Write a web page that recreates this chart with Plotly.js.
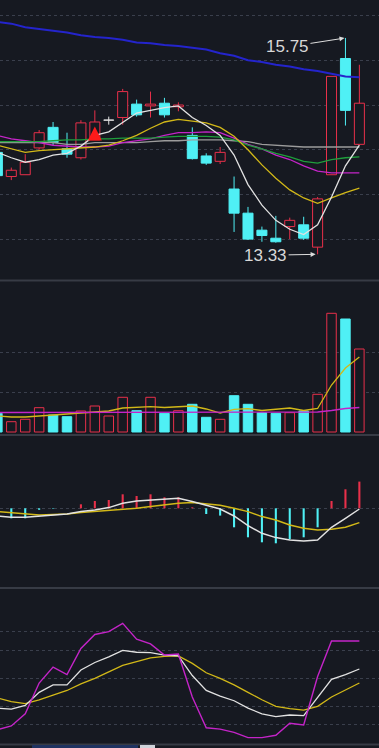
<!DOCTYPE html>
<html><head><meta charset="utf-8">
<script src="https://cdn.plot.ly/plotly-3.0.1.min.js"></script>
<style>html,body{margin:0;padding:0;background:#161921;overflow:hidden}#chart{width:379px;height:748px}</style>
</head><body><div id="chart"></div>
<script>
// ---- data ----
const days  = [0,1,2,3,4,5,6,7,8,9,10,11,12,13,14,15,16,17,18,19,20,21,22,23,24,25,26];
const open  = [14.47,14.20,14.22,14.52,14.75,14.51,14.41,14.61,14.83,14.86,15.01,14.99,15.02,14.98,14.66,14.43,14.37,14.06,13.79,13.60,13.51,13.64,13.66,13.41,14.22,15.52,14.56];
const high  = [14.50,14.30,14.45,14.72,14.81,14.69,14.83,14.94,14.87,15.18,15.06,15.15,15.08,15.03,14.75,14.46,14.53,14.20,13.86,13.64,13.76,13.74,13.75,13.97,15.32,15.75,15.45];
const low   = [14.19,14.16,14.22,14.50,14.55,14.41,14.39,14.61,14.78,14.78,14.87,14.86,14.86,14.93,14.39,14.33,14.34,13.58,13.49,13.47,13.46,13.50,13.49,13.33,14.22,14.77,14.55];
const close = [14.21,14.27,14.36,14.69,14.58,14.45,14.80,14.81,14.83,15.15,14.89,15.01,14.89,15.00,14.40,14.35,14.47,13.79,13.50,13.54,13.47,13.71,13.51,13.95,15.32,14.94,15.02];

const ma5   = [14.47,14.41,14.36,14.39,14.44,14.46,14.54,14.66,14.70,14.81,14.91,14.94,14.97,14.99,14.86,14.77,14.66,14.44,14.11,13.88,13.71,13.61,13.55,13.66,13.97,14.32,14.55];
const ma10  = [14.55,14.51,14.47,14.49,14.50,14.51,14.52,14.53,14.55,14.60,14.66,14.74,14.81,14.84,14.82,14.80,14.75,14.65,14.50,14.33,14.18,14.05,13.96,13.90,13.96,14.02,14.07];
const ma20  = [14.59,14.59,14.59,14.59,14.60,14.61,14.61,14.62,14.62,14.63,14.63,14.63,14.64,14.65,14.65,14.65,14.64,14.61,14.55,14.51,14.46,14.42,14.37,14.35,14.39,14.41,14.42];
const ma30  = [14.66,14.62,14.60,14.58,14.55,14.54,14.53,14.53,14.54,14.58,14.60,14.62,14.66,14.69,14.69,14.70,14.69,14.63,14.56,14.51,14.44,14.39,14.32,14.26,14.24,14.24,14.24];
const ma60  = [14.58,14.58,14.58,14.58,14.58,14.56,14.56,14.58,14.58,14.58,14.58,14.59,14.60,14.60,14.61,14.61,14.61,14.60,14.59,14.56,14.55,14.54,14.53,14.53,14.53,14.53,14.53];
const ma120 = [15.93,15.91,15.87,15.85,15.83,15.81,15.78,15.76,15.75,15.73,15.70,15.69,15.67,15.66,15.64,15.62,15.58,15.55,15.50,15.48,15.45,15.43,15.40,15.38,15.35,15.32,15.31];

const volume = [18.7,10.3,12.7,24.3,17,15.3,21,26,16,34.7,21.3,34.7,18.7,21.3,27.7,14.7,12.7,36.3,27.7,19.3,18.7,19.3,21,37.7,118.7,113,83];
const volMa5  = [16,15,15,16,17,18,19,19.5,21,24,24.5,25.3,24.5,25.3,26,23,19,22.7,23.3,21.5,22.7,24,21.5,23.5,47,64,75];
const volMa10 = [19.5,19.5,19.5,19.5,19.3,19.3,19.3,19.3,19.3,19.5,19.5,19.5,19.5,19.5,19.5,19.5,19.5,19.5,19.5,19.5,19.5,19.5,19.8,20,21.5,23.5,24.5];

const dif  = [-0.077,-0.09,-0.09,-0.077,-0.067,-0.057,-0.033,-0.017,0.007,0.05,0.073,0.083,0.09,0.10,0.067,0.033,-0.007,-0.077,-0.173,-0.25,-0.293,-0.317,-0.327,-0.317,-0.19,-0.10,-0.007];
const dea  = [-0.033,-0.043,-0.05,-0.067,-0.063,-0.057,-0.043,-0.033,-0.023,-0.017,0,0.017,0.033,0.05,0.057,0.043,0.03,0,-0.033,-0.083,-0.117,-0.167,-0.20,-0.217,-0.21,-0.19,-0.143];
const macd = [-0.09,-0.10,-0.10,-0.015,-0.005,0.0,0.04,0.073,0.083,0.14,0.123,0.14,0.11,0.11,0.01,-0.057,-0.073,-0.19,-0.29,-0.34,-0.35,-0.31,-0.29,-0.19,0.073,0.19,0.267];

const kdjK = [18,17,21,35,43,43,59,67,73,80,78,77.5,75,74,53,37,31,26,18,12,9,10.7,10,30,49,54,60];
const kdjD = [29,25,23,27,32,37,44,50,57,64,68,72,73.5,74,66,56,50,43,35,27,20,17.5,16,20,30,37.5,45];
const kdjJ = [-5,-1,12,45,62,54,82,97,100,109,92,87,75,76,30,-3,-4.5,-8,-13.6,-13.6,-11,1.8,0,52,90,90,90];

const signalX = [7];
const signalY = [14.76];
const priceGrid = [13.5,14,14.5,15,15.5,16];
const volGrid = [40,80];
const kdjGrid = [0,20,50,80,100];

// ---- styles ----
const BG='#161921', UP='#e8304a', DOWN='#4ff0f5', FLAT='#e6e6e6', GRID='#3a3f4c';
const WHITE='#e2e2e2', YEL='#d2b818', GRN='#1f9e3c', MAG='#c424c8', GRAY='#9c9c9c', BLUE='#2424cc';

const col = days.map((d,i)=> close[i]>open[i]?UP:(close[i]<open[i]?DOWN:FLAT));
const bodyBase = days.map((d,i)=>Math.min(open[i],close[i]));
const bodyH = days.map((d,i)=>Math.max(Math.abs(close[i]-open[i]),0.002));
const bodyFill = col.map(c=> c===DOWN?DOWN:BG);

function wicks(color){
  const x=[], y=[];
  days.forEach((d,i)=>{
    if(col[i]!==color) return;
    const top=Math.max(open[i],close[i]), bot=Math.min(open[i],close[i]);
    x.push(d,d,null,d,d,null); y.push(high[i],top,null,bot,low[i],null);
  });
  return {type:'scatter',mode:'lines',x:x,y:y,line:{color:color,width:1},xaxis:'x',yaxis:'y',hoverinfo:'skip'};
}
function line(y,color,w,ax){return {type:'scatter',mode:'lines',x:days,y:y,line:{color:color,width:w},xaxis:'x',yaxis:ax,hoverinfo:'skip'};}

const volCol = col.map(c=>c===FLAT?UP:c);
const data = [
  {type:'bar',x:days,y:bodyH,base:bodyBase,width:0.72,marker:{color:bodyFill,line:{color:col,width:1}},xaxis:'x',yaxis:'y',hoverinfo:'skip'},
  wicks(UP), wicks(DOWN), wicks(FLAT),
  line(ma120,BLUE,2,'y'), line(ma60,GRAY,1.3,'y'), line(ma30,MAG,1.3,'y'), line(ma20,GRN,1.3,'y'),
  line(ma10,YEL,1.3,'y'), line(ma5,WHITE,1.3,'y'),
  {type:'scatter',mode:'markers',x:signalX,y:signalY,marker:{symbol:'arrow-up',size:14,color:'#ff1a1a'},xaxis:'x',yaxis:'y',hoverinfo:'skip'},
  {type:'bar',x:days,y:volume,width:0.68,marker:{color:volCol.map(c=>c===DOWN?DOWN:BG),line:{color:volCol,width:1}},xaxis:'x',yaxis:'y2',hoverinfo:'skip'},
  line(volMa5,YEL,1.3,'y2'), line(volMa10,MAG,1.3,'y2'),
  {type:'bar',x:days,y:macd,width:0.15,marker:{color:macd.map(v=>v>=0?UP:DOWN),line:{width:0}},xaxis:'x',yaxis:'y3',hoverinfo:'skip'},
  line(dea,YEL,1.5,'y3'), line(dif,WHITE,1.5,'y3'),
  line(kdjD,YEL,1.3,'y4'), line(kdjK,WHITE,1.3,'y4'), line(kdjJ,MAG,1.4,'y4')
];

function yax(domain,range,tv){return {domain:domain,range:range,tickvals:tv,showticklabels:false,showgrid:true,gridcolor:GRID,griddash:'dot',gridwidth:1,zeroline:false,ticks:'',showline:false,fixedrange:true};}
function hsep(py){const y=1-py/748;return {type:'line',xref:'paper',yref:'paper',x0:0,x1:1,y0:y,y1:y,line:{color:'#373b45',width:2}};}

const layout = {
  width:379,height:748,margin:{l:0,r:0,t:0,b:0},
  paper_bgcolor:BG,plot_bgcolor:BG,showlegend:false,barmode:'overlay',
  xaxis:{range:[0.188,27.41],visible:false,fixedrange:true},
  yaxis: yax([1-280/748,1],[13.0425,16.1745],priceGrid),
  yaxis2:yax([1-434/748,1-282/748],[-2,150],volGrid),
  yaxis3:yax([1-587/748,1-436/748],[-0.787,0.723],[0]),
  yaxis4:yax([1-744/748,1-589/748],[-20.4,145.8],kdjGrid),
  shapes:[hsep(280.5),hsep(435),hsep(588),hsep(744.5),
    {type:'rect',xref:'paper',yref:'paper',x0:32/379,x1:138/379,y0:0,y1:3/748,fillcolor:'#1f3260',line:{width:0}},
    {type:'rect',xref:'paper',yref:'paper',x0:140/379,x1:155/379,y0:0,y1:3/748,fillcolor:'#cfd3da',line:{width:0}}],
  annotations:[
    {x:25,y:15.75,xref:'x',yref:'y',text:'15.75',showarrow:true,ax:-58,ay:9,arrowhead:2,arrowsize:1,arrowwidth:1,arrowcolor:'#dddddd',standoff:1,font:{family:'Liberation Sans, Arial, sans-serif',size:17,color:'#d8d8d8'}},
    {x:23,y:13.33,xref:'x',yref:'y',text:'13.33',showarrow:true,ax:-52,ay:1,arrowhead:2,arrowsize:1,arrowwidth:1,arrowcolor:'#dddddd',standoff:2,font:{family:'Liberation Sans, Arial, sans-serif',size:17,color:'#d8d8d8'}}
  ]
};
Plotly.newPlot('chart',data,layout,{staticPlot:true,displayModeBar:false});
</script></body></html>
